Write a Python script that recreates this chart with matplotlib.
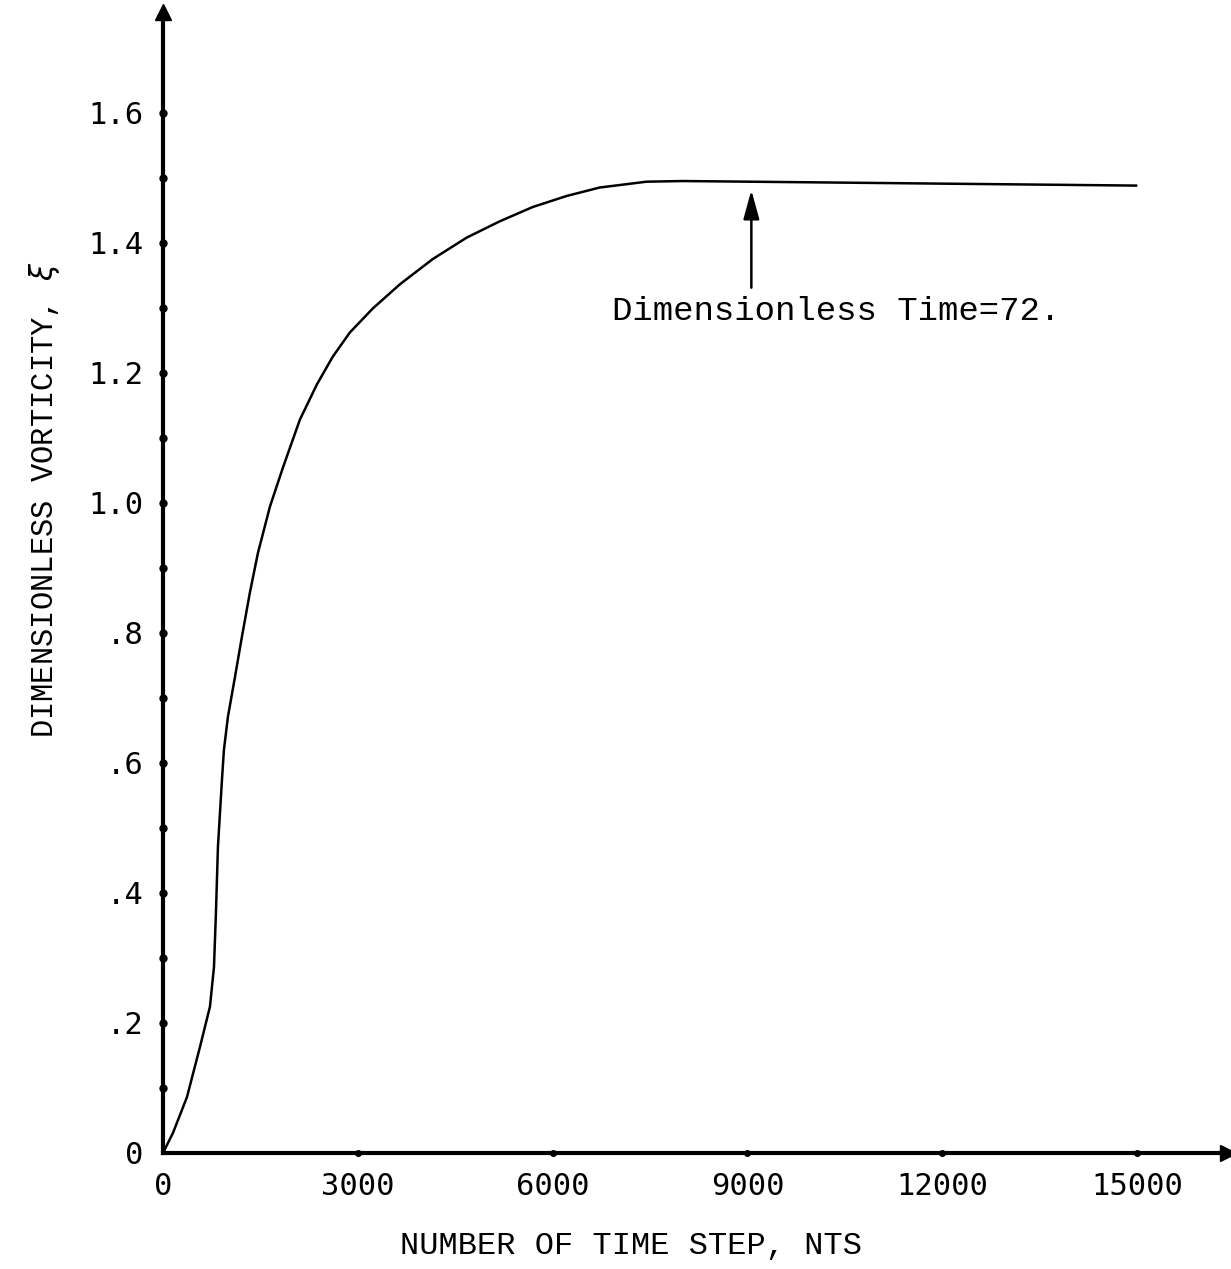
import matplotlib.pyplot as plt
import numpy as np

# vorticity history vs. number of time steps
nts = [0, 154, 369, 569, 723, 785, 815, 846, 908, 938, 1000, 1108, 1215, 1338,
       1462, 1646, 1846, 2108, 2369, 2615, 2877, 3231, 3646, 4154, 4677, 5185,
       5692, 6215, 6723, 7446, 8000, 9030, 12000, 14985]
vort = [0, 0.031, 0.086, 0.163, 0.225, 0.286, 0.369, 0.471, 0.574, 0.62, 0.671,
        0.732, 0.794, 0.862, 0.923, 0.994, 1.054, 1.128, 1.182, 1.225, 1.262,
        1.299, 1.336, 1.375, 1.408, 1.433, 1.455, 1.472, 1.485, 1.494, 1.495,
        1.494, 1.491, 1.488]

xticks = [0, 3000, 6000, 9000, 12000, 15000]
yticks = [0, 0.2, 0.4, 0.6, 0.8, 1.0, 1.2, 1.4, 1.6]
ytick_labels = ['0', '.2', '.4', '.6', '.8', '1.0', '1.2', '1.4', '1.6']

note_text = 'Dimensionless Time=72.'
note_x = 9060
note_tip = 1.481
note_tail = 1.331

mono = 'Liberation Mono'
nums = 'DejaVu Sans Mono'

fig = plt.figure(figsize=(12.31, 12.69), dpi=100)
ax = fig.add_axes([163 / 1231, 116 / 1269, 1065 / 1231, 1141 / 1269])
xmax, ymax = 16400, 1.755
ax.set_xlim(0, xmax)
ax.set_ylim(0, ymax)

for s in ['top', 'right']:
    ax.spines[s].set_visible(False)
for s in ['left', 'bottom']:
    ax.spines[s].set_linewidth(3)
    ax.spines[s].set_color('black')

# arrow heads on the axes
ax.plot(xmax, 0, '>', color='black', ms=11, clip_on=False)
ax.plot(0, ymax, '^', color='black', ms=11, clip_on=False)

# dot ticks along the axes
ydots = np.arange(1, 17) / 10
ax.plot(np.zeros_like(ydots), ydots, 'o', color='black', ms=5, clip_on=False)
ax.plot(xticks[1:], np.zeros(len(xticks) - 1), 'o', color='black', ms=4, clip_on=False)

ax.set_xticks(xticks)
ax.set_xticklabels([str(v) for v in xticks], fontfamily=nums, fontsize=22)
ax.set_yticks(yticks)
ax.set_yticklabels(ytick_labels, fontfamily=nums, fontsize=22)
ax.tick_params(axis='x', length=0, pad=14)
ax.tick_params(axis='y', length=0, pad=14)

ax.plot(nts, vort, color='black', lw=1.8, clip_on=False)

ax.annotate('', xy=(note_x, note_tip), xytext=(note_x, note_tail),
            arrowprops=dict(arrowstyle='-|>,head_length=0.8,head_width=0.22',
                            color='black', lw=1.8, mutation_scale=22,
                            shrinkA=0, shrinkB=0))
ax.text(6908, 1.294, note_text, fontfamily=mono, fontsize=24.5,
        ha='left', va='center')

fig.text(631 / 1231, 1 - 1246 / 1269, 'NUMBER OF TIME STEP, NTS',
         fontfamily=mono, fontsize=23, ha='center', va='center')
fig.text(45 / 1231, 1 - 500 / 1269, 'DIMENSIONLESS VORTICITY, $\\xi$',
         fontfamily=mono, fontsize=22, ha='center', va='center', rotation=90)

fig.savefig('out.png', dpi=100)
